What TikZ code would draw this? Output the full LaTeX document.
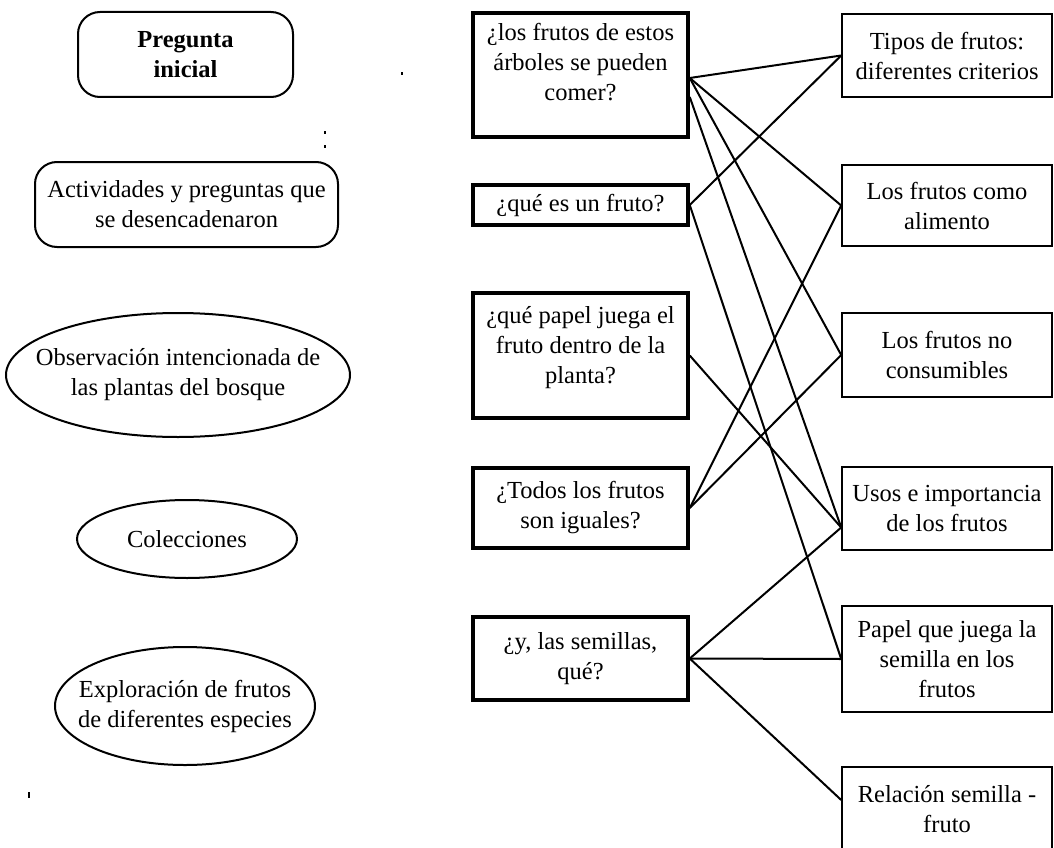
\documentclass[tikz,border=0pt]{standalone}
\usepackage{fontspec}
\setmainfont{Liberation Serif}
\usetikzlibrary{shapes.geometric,calc}
\begin{document}
\begin{tikzpicture}[x=1pt,y=-1pt,
  every node/.style={font=\fontsize{24.5}{30}\selectfont, align=center, inner sep=0pt},
  leftround/.style={draw, line width=2pt, rounded corners=22pt},
  leftoval/.style={draw, ellipse, line width=2pt, inner xsep=-35pt, inner ysep=-25pt},
  qbox/.style={draw, line width=3.5pt, minimum width=215pt},
  rbox/.style={draw, line width=1.6pt, minimum width=210pt},
  link/.style={line width=2pt}]
\useasboundingbox (0,0) rectangle (1054,848);
% left column
\node[leftround, minimum width=215pt, minimum height=85pt] (L1) at (185.5,54.5) {\bfseries Pregunta\\\bfseries inicial};
\node[leftround, minimum width=303pt, minimum height=85pt] (L2) at (186.5,204.5) {Actividades y preguntas que\\se desencadenaron};
\node[leftoval, minimum width=344pt, minimum height=124pt] (L3) at (178,375) {Observación intencionada de\\las plantas del bosque};
\node[leftoval, minimum width=220pt, minimum height=78pt] (L4) at (187,539) {Colecciones};
\node[leftoval, minimum width=260pt, minimum height=118pt] (L5) at (185,706) {Exploración de frutos\\de diferentes especies};
% middle column
\node[qbox, minimum height=124pt] (Q1) at (580.5,75) {¿los frutos de estos\\árboles se pueden\\comer?\rule[-26pt]{0pt}{0pt}};
\node[qbox, minimum height=40pt] (Q2) at (580.5,205) {¿qué es un fruto?};
\node[qbox, minimum height=125pt] (Q3) at (580.5,355.5) {¿qué papel juega el\\fruto dentro de la\\planta?\rule[-22pt]{0pt}{0pt}};
\node[qbox, minimum height=80pt] (Q4) at (580.5,508) {¿Todos los frutos\\son iguales?};
\node[qbox, minimum height=83pt] (Q5) at (580.5,658.5) {¿y, las semillas,\\qué?};
% right column
\node[rbox, minimum height=83pt] (R1) at (947,55.5) {Tipos de frutos:\\diferentes criterios};
\node[rbox, minimum height=81pt] (R2) at (947,205.5) {Los frutos como\\alimento};
\node[rbox, minimum height=84pt] (R3) at (947,355) {Los frutos no\\consumibles};
\node[rbox, minimum height=83pt] (R4) at (947,508.5) {Usos e importancia\\de los frutos};
\node[rbox, minimum height=106pt] (R5) at (947,659) {Papel que juega la\\semilla en los\\frutos};
\node[rbox, minimum height=84pt] (R6) at (947,809) {Relación semilla -\\fruto};
% attachment points
\coordinate (Q1a) at ($(Q1.east)+(0,3)$);
\coordinate (Q1b) at ($(Q1.east)+(0,22)$);
\coordinate (R4in) at ($(R4.west)+(0,19)$);
\coordinate (R6in) at ($(R6.west)+(0,-9)$);
% connectors
\draw[link] (Q1a) -- (R1.west);
\draw[link] (Q1a) -- (R2.west);
\draw[link] (Q1a) -- (R3.west);
\draw[link] (Q1b) -- (R4in);
\draw[link] (Q2.east) -- (R1.west);
\draw[link] (Q2.east) -- (R5.west);
\draw[link] (Q3.east) -- (R4in);
\draw[link] (Q4.east) -- (R2.west);
\draw[link] (Q4.east) -- (R3.west);
\draw[link] (Q5.east) -- (R4in);
\draw[link] (Q5.east) -- (R5.west);
\draw[link] (Q5.east) -- (R6in);
% scan specks
\fill (401,72) rectangle (403,75);
\fill (324,131) rectangle (326,134);
\fill (324,145) rectangle (326,148);
\fill (28,792) rectangle (30,798);
\end{tikzpicture}
\end{document}
